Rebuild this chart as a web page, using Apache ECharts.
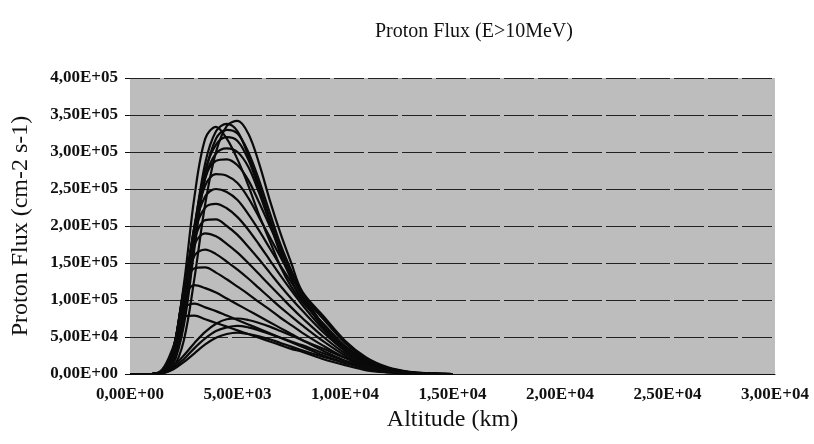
<!DOCTYPE html>
<html><head><meta charset="utf-8">
<script src="https://cdn.jsdelivr.net/npm/echarts@6/dist/echarts.min.js"></script>
<style>html,body{margin:0;padding:0;background:#fff}#c{width:814px;height:444px}</style>
</head><body><div id="c"></div>
<script>
// Altitude (km)
const altitudes = [0,1000,1500,2000,2500,3000,3500,4000,4500,5000,5500,6000,6500,7000,7500,8000,9000,10000,11000,12000,13000,14000,15000];
// Proton flux in thousands (cm-2 s-1)
const curveA1 = [0,0,1,8,45,130,230,300,335,342,325,285,235,190,150,112,78,45,22,9,3,1,0];
const curveA2 = [0,0,3,30,120,240,318,334,318,290,255,215,180,145,118,98,68,38,18,7,2,0.5,0];
const curveA3 = [0,0,2,18,85,195,285,328,338,328,295,255,210,168,135,108,74,42,20,8,2.5,0.5,0];
const curveA4 = [0,0,1,12,65,170,270,318,330,325,300,262,218,175,140,110,76,44,21,8,2.5,0.5,0];
const curveA5 = [0,0,2,20,95,200,275,310,320,315,290,250,205,162,128,100,66,36,17,6,2,0.5,0];
const curveF1 = [0,0,2,15,75,180,265,298,305,300,280,245,205,168,135,105,62,32,14,5,1.5,0.3,0];
const curveF2 = [0,0,2,20,90,195,265,288,290,282,262,232,200,168,138,110,65,33,14,5,1.5,0.3,0];
const curveF3 = [0,0,3,22,100,200,255,270,268,258,238,212,185,158,132,108,66,35,16,6,2,0.5,0];
const curveF4 = [0,0,3,25,105,198,240,250,246,235,216,194,170,146,124,102,64,35,16,6,2,0.5,0];
const curveF5 = [0,0,3,25,108,192,225,230,224,212,195,175,154,133,113,94,60,33,15,5,1.5,0.3,0];
const curveF6 = [0,0,3,28,112,182,208,209,200,188,172,155,137,119,102,86,56,31,14,5,1.5,0.3,0];
const curveF7 = [0,0,4,30,115,175,190,186,176,164,150,135,120,105,90,76,50,28,13,4,1,0,0];
const curveF8 = [0,0,4,32,112,160,168,162,152,141,129,116,103,90,78,66,44,25,11,4,1,0,0];
const curveF9 = [0,0,4,32,108,143,144,137,128,118,108,97,87,76,66,56,38,22,10,3,1,0,0];
const curveF10 = [0,0,5,33,100,120,116,110,102,94,86,78,70,62,54,46,31,18,8,3,1,0,0];
const curveF11 = [0,0,5,34,88,95,90,85,79,73,67,61,55,49,43,37,25,15,7,2,0.5,0,0];
const curveF12 = [0,0,6,36,78,79,74,69,64,59,54,49,44,39,34,30,20,12,5,2,0.5,0,0];
const curveH1 = [0,0,2,10,25,42,57,68,74,75,73,69,64,58,52,46,34,22,12,5,1.5,0.3,0];
const curveH2 = [0,0,2,8,20,35,48,58,63,65,63,59,54,49,44,39,28,18,10,4,1,0,0];
const curveH3 = [0,0,1,6,16,28,40,49,54,56,54,51,47,42,37,32,23,15,8,3,1,0,0];

const curves = [curveA1,curveA2,curveA3,curveA4,curveA5,curveF1,curveF2,curveF3,curveF4,curveF5,curveF6,curveF7,curveF8,curveF9,curveF10,curveF11,curveF12,curveH1,curveH2,curveH3];

function sci(v){
  if (v === 0) return '0,00E+00';
  const e = Math.floor(Math.log10(v) + 1e-9);
  const m = v / Math.pow(10, e);
  return m.toFixed(2).replace('.', ',') + 'E+' + String(e).padStart(2, '0');
}

const serif = '"Liberation Serif","DejaVu Serif",serif';
const chart = echarts.init(document.getElementById('c'), null, {renderer:'canvas'});
chart.setOption({
  animation:false,
  backgroundColor:'#fff',
  title:{text:'Proton Flux (E>10MeV)', left:370, top:17,
    textStyle:{fontFamily:serif, fontSize:20, fontWeight:'normal', color:'#111'}},
  grid:{left:130, right:39, top:78, bottom:70, show:true, backgroundColor:'#bdbdbd', borderWidth:0},
  xAxis:{type:'value', min:0, max:30000, interval:5000,
    name:'Altitude (km)', nameLocation:'middle', nameGap:32,
    nameTextStyle:{fontFamily:serif, fontSize:24, color:'#111'},
    axisLine:{show:true, lineStyle:{color:'#111', width:1}},
    axisTick:{show:false},
    splitLine:{show:false},
    axisLabel:{formatter:sci, margin:12, fontFamily:serif, fontSize:17, fontWeight:'bold', color:'#111'}},
  yAxis:{type:'value', min:0, max:400000, interval:50000,
    name:'Proton Flux (cm-2 s-1)', nameLocation:'middle', nameGap:97,
    nameTextStyle:{fontFamily:serif, fontSize:24, color:'#111'},
    axisLine:{show:false},
    axisTick:{show:true, length:5, lineStyle:{color:'#111'}},
    splitLine:{show:true, lineStyle:{color:'#222', width:1, type:[30,4]}},
    axisLabel:{formatter:sci, margin:12, fontFamily:serif, fontSize:17, fontWeight:'bold', color:'#111'}},
  series: curves.map(c => ({
    type:'line', smooth:0.35, showSymbol:false, silent:true,
    lineStyle:{color:'#0a0a0a', width:2.2},
    data: c.map((v,i)=>[altitudes[i], v*1000])
  }))
});
</script></body></html>
